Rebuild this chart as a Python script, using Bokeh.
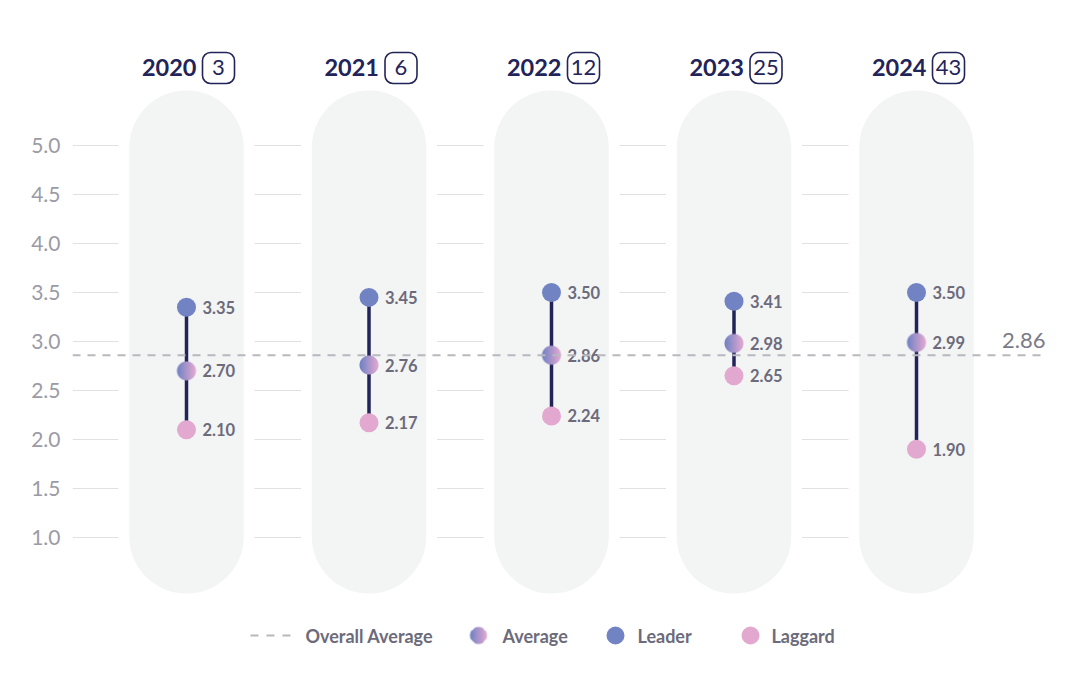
import numpy as np
from bokeh.plotting import figure
from bokeh.models import Range1d, FixedTicker, NumeralTickFormatter, Span
from bokeh.core.properties import value
from bokeh.embed import file_html
from bokeh.resources import INLINE

# ---------------- data ----------------
years = ["2020", "2021", "2022", "2023", "2024"]
counts = ["3", "6", "12", "25", "43"]
leader = [3.35, 3.45, 3.50, 3.41, 3.50]
average = [2.70, 2.76, 2.86, 2.98, 2.99]
laggard = [2.10, 2.17, 2.24, 2.65, 1.90]
overall_average = 2.86
y_ticks = [1.0, 1.5, 2.0, 2.5, 3.0, 3.5, 4.0, 4.5, 5.0]
legend_labels = ["Overall Average", "Average", "Leader", "Laggard"]

# ---------------- layout / style ----------------
W, H = 1064, 680
ML, MR, MT = 72, 18, 8
PX_X, PX_Y = 182.5, 98.0          # pixels per data unit
FRAME_W = W - ML - MR
FRAME_H = H - MT
X0 = -(186 - 72) / PX_X
X1 = X0 + FRAME_W / PX_X
Y1 = 5.0 + (145 - 8) / PX_Y
Y0 = Y1 - FRAME_H / PX_Y

NAVY = "#222459"
LEADER_C = "#7283c4"
LAGGARD_C = "#e3a8cf"
PILL_C = "#f3f4f4"
GRID_C = "#e1e1e4"
LABEL_C = "#6c6b7b"
AXIS_C = "#9b9ba6"
DASH_C = "#b8b8be"
FONT = value("Lato")

idx = list(range(len(years)))


def ypx(page_y):
    return 5.0 - (page_y - 145) / PX_Y


def xpx(page_x):
    return (page_x - 186) / PX_X


PILL_TOP, PILL_BOT = ypx(90), ypx(593)
HEAD_Y = ypx(67)
BOX_T, BOX_B = ypx(52), ypx(83)
LEG_Y = ypx(635)

# gradient circle image for "Average" markers
N = 20
yy, xx = np.mgrid[0:N, 0:N]
c = (N - 1) / 2
r = np.hypot(xx - c, yy - c)
alpha = np.clip(N / 2 - r, 0, 1)
t = np.clip((xx / (N - 1) - 0.05) / 0.95, 0, 1)
c1 = np.array([0x74, 0x83, 0xc5], dtype=float)
c2 = np.array([0xe6, 0xaa, 0xd2], dtype=float)
rgb = c1[None, None, :] * (1 - t[..., None]) + c2[None, None, :] * t[..., None]
rgba = np.zeros((N, N, 4), dtype=np.uint8)
rgba[..., :3] = rgb.astype(np.uint8)
rgba[..., 3] = (alpha * 255).astype(np.uint8)
grad_img = rgba.view(np.uint32).reshape(N, N)

p = figure(width=W, height=H, x_range=Range1d(X0, X1), y_range=Range1d(Y0, Y1),
           min_border_left=ML, min_border_right=MR, min_border_top=MT, min_border_bottom=0,
           x_axis_location=None, toolbar_location=None, output_backend="svg",
           outline_line_color=None, background_fill_color="white", border_fill_color="white")
p.grid.visible = False

ya = p.yaxis[0]
ya.ticker = FixedTicker(ticks=y_ticks)
ya.formatter = NumeralTickFormatter(format="0.0")
ya.axis_line_color = None
ya.major_tick_line_color = None
ya.minor_tick_line_color = None
ya.major_tick_in = 0
ya.major_tick_out = 0
ya.major_label_standoff = 12
ya.major_label_text_font = "Lato"
ya.major_label_text_font_size = "21px"
ya.major_label_text_color = AXIS_C

# gridlines (cut by pills)
p.segment(x0=[X0] * len(y_ticks), y0=y_ticks, x1=[idx[-1]] * len(y_ticks), y1=y_ticks,
          line_color=GRID_C, line_width=1.2)
# white covers to create gaps around pills
p.vbar(x=idx, top=[PILL_TOP + 11 / PX_Y] * 5, bottom=[PILL_BOT - 11 / PX_Y] * 5,
       width=(114 + 22) / PX_X, fill_color="white", line_color=None, border_radius=68)
# pills
p.vbar(x=idx, top=[PILL_TOP] * 5, bottom=[PILL_BOT] * 5,
       width=114.5 / PX_X, fill_color=PILL_C, line_color=None, border_radius=57)

# overall average dashed line
p.add_layout(Span(location=overall_average, dimension="width", line_color=DASH_C,
                  line_width=2, line_dash="8 7"))
p.text(x=[X1], y=[overall_average], text=[f"{overall_average:.2f}"], text_align="right",
       text_baseline="bottom", x_offset=-1, y_offset=-7, text_font=FONT,
       text_font_size="22px", text_color="#7b7b88")

# connectors
p.segment(x0=idx, y0=leader, x1=idx, y1=laggard, line_color=NAVY, line_width=3.5)
# markers
p.scatter(x=idx, y=leader, size=19, fill_color=LEADER_C, line_color=None)
p.scatter(x=idx, y=laggard, size=19, fill_color=LAGGARD_C, line_color=None)
p.image_rgba(image=[grad_img] * 5, x=idx, y=average, dw=N, dh=N,
             dw_units="screen", dh_units="screen", anchor="center")

# value labels
vals = leader + average + laggard
p.text(x=idx * 3, y=vals, text=[f"{v:.2f}" for v in vals], x_offset=16,
       text_baseline="middle", text_align="left", text_font=FONT, text_font_style="bold",
       text_font_size="16.5px", text_color=LABEL_C)

# headers
p.text(x=idx, y=[HEAD_Y] * 5, text=years, text_align="right", text_baseline="middle",
       x_offset=10, text_font=FONT, text_font_style="bold", text_font_size="23.5px",
       text_color=NAVY)
p.quad(left=[i + 16 / PX_X for i in idx], right=[i + 48 / PX_X for i in idx],
       top=[BOX_T] * 5, bottom=[BOX_B] * 5, fill_color="white", line_color=NAVY,
       line_width=1.6, border_radius=8)
p.text(x=[i + 32 / PX_X for i in idx], y=[HEAD_Y] * 5, text=counts, text_align="center",
       text_baseline="middle", text_font=FONT, text_font_size="22px", text_color=NAVY)

# legend
p.segment(x0=[xpx(250)], y0=[LEG_Y], x1=[xpx(290)], y1=[LEG_Y], line_color=DASH_C,
          line_width=2, line_dash="8 8")
p.image_rgba(image=[grad_img], x=[xpx(478)], y=[LEG_Y], dw=N - 2, dh=N - 2,
             dw_units="screen", dh_units="screen", anchor="center")
p.scatter(x=[xpx(615), xpx(750)], y=[LEG_Y] * 2, size=18,
          fill_color=[LEADER_C, LAGGARD_C], line_color=None)
p.text(x=[xpx(305), xpx(502), xpx(637), xpx(771)], y=[LEG_Y] * 4, text=legend_labels,
       text_baseline="middle", text_align="left", text_font=FONT, text_font_style="bold",
       text_font_size="18px", text_color=LABEL_C)

open("out.html", "w").write(file_html(p, INLINE))
